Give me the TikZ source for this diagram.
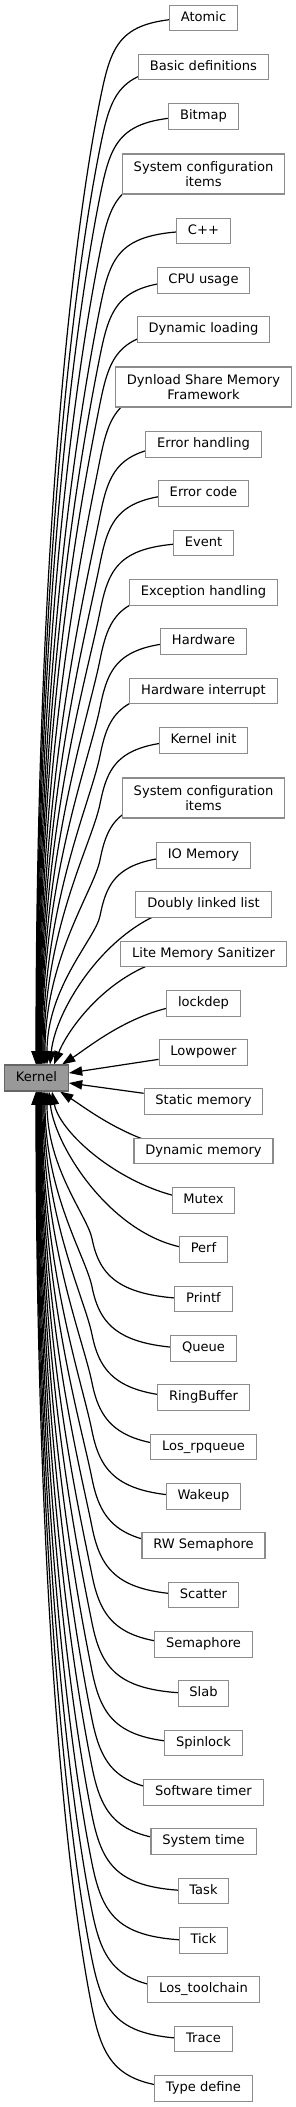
\documentclass[tikz,border=0pt]{standalone}
\usepackage{fontspec}
\setmainfont{DejaVu Sans}
\usetikzlibrary{arrows.meta,calc,backgrounds}

\definecolor{grpborder}{HTML}{8C8C8C}
\definecolor{kernelfill}{HTML}{999999}
\definecolor{kernelborder}{HTML}{666666}

% long edge into the top of Kernel: node, centre y, end offset
\newcommand{\upedge}[3]{%
  \pgfmathsetmacro{\edgeD}{1065-#2}%
  \pgfmathsetmacro{\edgeH}{55+0.026*\edgeD}%
  \pgfmathsetmacro{\edgeL}{\edgeH-22}%
  \pgfmathsetmacro{\edgeR}{\edgeD-\edgeH}%
  \draw[link] (#1.center) .. controls +(-83.5,0) and +(0.2*\edgeL,-\edgeL) .. ++(-103.5,\edgeH)
    .. controls +(-0.03*\edgeR,0.15*\edgeR) and +(0,-0.52*\edgeR) .. ($(kernel.north)+(#3,0)$);
}
% long edge into the bottom of Kernel: node, centre y, end offset
\newcommand{\downedge}[3]{%
  \pgfmathsetmacro{\edgeD}{#2-1091}%
  \pgfmathsetmacro{\edgeH}{55+0.026*\edgeD}%
  \pgfmathsetmacro{\edgeL}{\edgeH-22}%
  \pgfmathsetmacro{\edgeR}{\edgeD-\edgeH}%
  \draw[link] (#1.center) .. controls +(-83.5,0) and +(0.2*\edgeL,\edgeL) .. ++(-111.5,-\edgeH)
    .. controls +(-0.03*\edgeR,-0.15*\edgeR) and +(0,0.52*\edgeR) .. ($(kernel.south)+(#3,0)$);
}

\begin{document}
\begin{tikzpicture}[x=0.75pt, y=-0.75pt,
    box/.style={rectangle, draw=grpborder, fill=white, line width=0.8pt, inner xsep=8.5pt, inner ysep=2pt, minimum height=19pt, font=\fontsize{9.8pt}{10.7pt}\selectfont},
    one/.style={box, text height=7.5pt, text depth=2.5pt},
    two/.style={box, align=center, minimum height=30pt},
    link/.style={-{Triangle[length=10pt, width=7pt]}, line width=0.9pt},
]
    \useasboundingbox (0,0) rectangle (296,2107);

    % Kernel
    \node[one, draw=kernelborder, fill=kernelfill, minimum width=47.25pt, minimum height=19.5pt] (kernel) at (36.5, 1078) {Kernel};

    % Groups above Kernel
    \node[one] (atomic) at (203.5, 18) {Atomic};
    \node[one] (basic) at (203.5, 67) {Basic definitions};
    \node[one] (bitmap) at (203.5, 116.5) {Bitmap};
    \node[two] (sysconf) at (203.5, 174) {System configuration\\items};
    \node[one] (cpp) at (203.5, 231) {C++};
    \node[one] (cpu) at (203.5, 280.5) {CPU usage};
    \node[one] (dynload) at (203.5, 329.5) {Dynamic loading};
    \node[two] (dynshm) at (203.5, 387) {Dynload Share Memory\\Framework};
    \node[one] (errhandle) at (203.5, 444.5) {Error handling};
    \node[one] (errcode) at (203.5, 493.5) {Error code};
    \node[one] (event) at (203.5, 543) {Event};
    \node[one] (exception) at (203.5, 592.5) {Exception handling};
    \node[one] (hardware) at (203.5, 641.5) {Hardware};
    \node[one] (hwi) at (203.5, 691) {Hardware interrupt};
    \node[one] (kinit) at (203.5, 740.5) {Kernel init};
    \node[two] (sysconfb) at (203.5, 798) {System configuration\\items};
    \node[one] (iomem) at (203.5, 855.5) {IO Memory};
    \node[one] (dlist) at (203.5, 904.5) {Doubly linked list};
    \node[one] (lms) at (203.5, 954) {Lite Memory Sanitizer};
    \node[one] (lockdep) at (203.5, 1003.5) {lockdep};
    \node[one] (lowpower) at (203.5, 1052.5) {Lowpower};

    % Groups below Kernel
    \node[one] (staticmem) at (203.5, 1101.5) {Static memory};
    \node[one] (dynmem) at (203.5, 1151) {Dynamic memory};
    \node[one] (mutex) at (203.5, 1200.5) {Mutex};
    \node[one] (perf) at (203.5, 1249.5) {Perf};
    \node[one] (printf) at (203.5, 1299) {Printf};
    \node[one] (queue) at (203.5, 1348.5) {Queue};
    \node[one] (ringbuf) at (203.5, 1397.5) {RingBuffer};
    \node[one] (rpqueue) at (203.5, 1447) {Los\_rpqueue};
    \node[one] (wakeup) at (203.5, 1496.5) {Wakeup};
    \node[one] (rwsem) at (203.5, 1545.5) {RW Semaphore};
    \node[one] (scatter) at (203.5, 1595) {Scatter};
    \node[one] (sem) at (203.5, 1644.5) {Semaphore};
    \node[one] (slab) at (203.5, 1693.5) {Slab};
    \node[one] (spinlock) at (203.5, 1743) {Spinlock};
    \node[one] (swtmr) at (203.5, 1792.5) {Software timer};
    \node[one] (systime) at (203.5, 1841.5) {System time};
    \node[one] (task) at (203.5, 1891) {Task};
    \node[one] (tick) at (203.5, 1940.5) {Tick};
    \node[one] (toolchain) at (203.5, 1989.5) {Los\_toolchain};
    \node[one] (trace) at (203.5, 2039) {Trace};
    \node[one] (typedef) at (203.5, 2088.5) {Type define};

    \begin{pgfonlayer}{background}
    % into the top of Kernel
    \upedge{atomic}{18}{-0.5}
    \upedge{basic}{67}{0}
    \upedge{bitmap}{116.5}{0.5}
    \upedge{sysconf}{174}{1}
    \upedge{cpp}{231}{1.5}
    \upedge{cpu}{280.5}{2}
    \upedge{dynload}{329.5}{2.5}
    \upedge{dynshm}{387}{3}
    \upedge{errhandle}{444.5}{3.5}
    \upedge{errcode}{493.5}{4}
    \upedge{event}{543}{4.5}
    \upedge{exception}{592.5}{5}
    \upedge{hardware}{641.5}{5.5}
    \upedge{hwi}{691}{6.5}
    \upedge{kinit}{740.5}{7.5}
    \upedge{sysconfb}{798}{8.5}
    \upedge{iomem}{855.5}{10.5}
    \draw[link] (dlist.center) .. controls +(-83,0) and +(6,-60) .. ($(kernel.north)+(13.5,0)$);
    \draw[link] (lms.center) .. controls +(-83,0) and +(15,-38) .. ($(kernel.north)+(17.5,0)$);
    \draw[link] (lockdep.center) .. controls +(-63,0) and +(28,-18) .. ($(kernel.north)+(25.5,0)$);

    % into the side of Kernel
    \draw[link] (lowpower) -- ($(kernel.east)+(0,-5)$);
    \draw[link] (staticmem) -- ($(kernel.east)+(0,5)$);

    % into the bottom of Kernel
    \draw[link] (dynmem.center) .. controls +(-63,0) and +(28,18) .. ($(kernel.south)+(23.5,0)$);
    \draw[link] (mutex.center) .. controls +(-73.5,-5) and +(8,43) .. ($(kernel.south)+(15.5,0)$);
    \draw[link] (perf.center) .. controls +(-83.5,0) and +(6,58) .. ($(kernel.south)+(12.5,0)$);
    \downedge{printf}{1299}{10.5}
    \downedge{queue}{1348.5}{8.5}
    \downedge{ringbuf}{1397.5}{7.5}
    \downedge{rpqueue}{1447}{6.5}
    \downedge{wakeup}{1496.5}{5.5}
    \downedge{rwsem}{1545.5}{5}
    \downedge{scatter}{1595}{4.5}
    \downedge{sem}{1644.5}{4}
    \downedge{slab}{1693.5}{3.5}
    \downedge{spinlock}{1743}{3}
    \downedge{swtmr}{1792.5}{2.5}
    \downedge{systime}{1841.5}{2}
    \downedge{task}{1891}{1.5}
    \downedge{tick}{1940.5}{1}
    \downedge{toolchain}{1989.5}{0.5}
    \downedge{trace}{2039}{0}
    \downedge{typedef}{2088.5}{-0.5}
    \end{pgfonlayer}
\end{tikzpicture}
\end{document}
